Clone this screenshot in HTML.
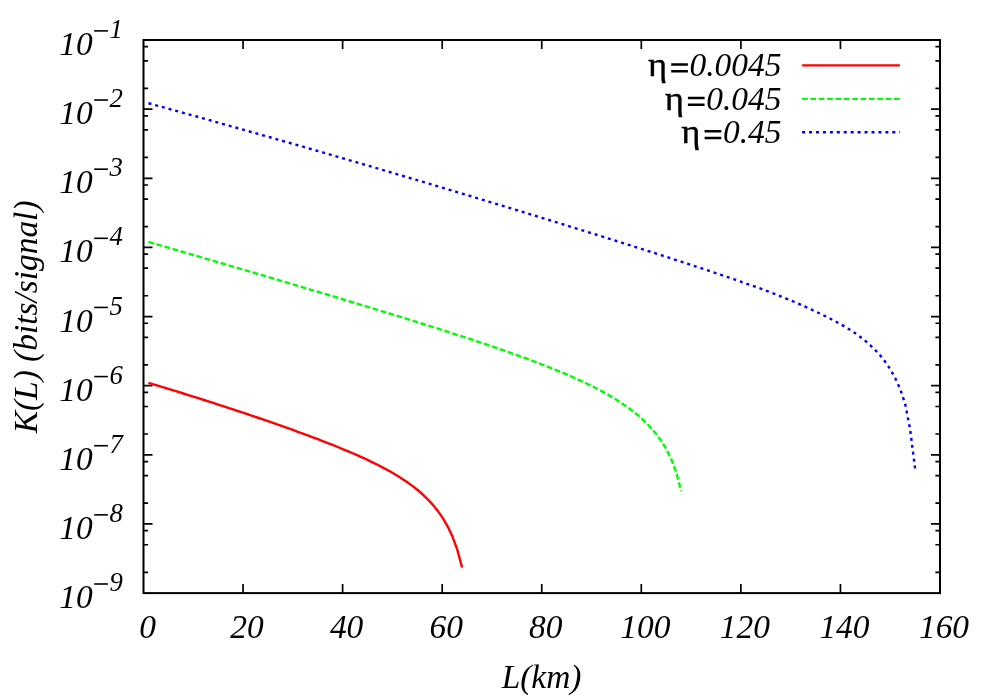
<!DOCTYPE html>
<html><head><meta charset="utf-8"><title>K(L)</title>
<style>
html,body{margin:0;padding:0;background:#fff;}
body{width:1000px;height:700px;overflow:hidden;}
svg{display:block;will-change:transform;}
text{font-family:"Liberation Serif",serif;font-style:italic;fill:#000;}
.up{font-style:normal;}
</style></head><body>
<svg width="1000" height="700" viewBox="0 0 1000 700">
<rect width="1000" height="700" fill="#fff"/>
<path d="M143.50,46.70h4.6 M940.00,46.70h-4.6 M143.50,60.81h4.6 M940.00,60.81h-4.6 M143.50,88.33h4.6 M940.00,88.33h-4.6 M143.50,109.14h9.0 M940.00,109.14h-9.0 M143.50,115.84h4.6 M940.00,115.84h-4.6 M143.50,129.95h4.6 M940.00,129.95h-4.6 M143.50,157.46h4.6 M940.00,157.46h-4.6 M143.50,178.28h9.0 M940.00,178.28h-9.0 M143.50,184.98h4.6 M940.00,184.98h-4.6 M143.50,199.09h4.6 M940.00,199.09h-4.6 M143.50,226.60h4.6 M940.00,226.60h-4.6 M143.50,247.41h9.0 M940.00,247.41h-9.0 M143.50,254.11h4.6 M940.00,254.11h-4.6 M143.50,268.22h4.6 M940.00,268.22h-4.6 M143.50,295.74h4.6 M940.00,295.74h-4.6 M143.50,316.55h9.0 M940.00,316.55h-9.0 M143.50,323.25h4.6 M940.00,323.25h-4.6 M143.50,337.36h4.6 M940.00,337.36h-4.6 M143.50,364.88h4.6 M940.00,364.88h-4.6 M143.50,385.69h9.0 M940.00,385.69h-9.0 M143.50,392.39h4.6 M940.00,392.39h-4.6 M143.50,406.50h4.6 M940.00,406.50h-4.6 M143.50,434.01h4.6 M940.00,434.01h-4.6 M143.50,454.83h9.0 M940.00,454.83h-9.0 M143.50,461.53h4.6 M940.00,461.53h-4.6 M143.50,475.64h4.6 M940.00,475.64h-4.6 M143.50,503.15h4.6 M940.00,503.15h-4.6 M143.50,523.96h9.0 M940.00,523.96h-9.0 M143.50,530.66h4.6 M940.00,530.66h-4.6 M143.50,544.77h4.6 M940.00,544.77h-4.6 M143.50,572.29h4.6 M940.00,572.29h-4.6 M243.06,593.10v-9.0 M243.06,40.00v9.0 M342.62,593.10v-9.0 M342.62,40.00v9.0 M442.19,593.10v-9.0 M442.19,40.00v9.0 M541.75,593.10v-9.0 M541.75,40.00v9.0 M641.31,593.10v-9.0 M641.31,40.00v9.0 M740.88,593.10v-9.0 M740.88,40.00v9.0 M840.44,593.10v-9.0 M840.44,40.00v9.0" stroke="#000" stroke-width="1.7" fill="none"/>
<rect x="143.5" y="40.0" width="796.5" height="553.1" fill="none" stroke="#000" stroke-width="2.0"/>
<path d="M148.48,382.89 L153.46,384.37 L158.43,385.87 L163.41,387.38 L168.39,388.89 L173.37,390.42 L178.35,391.95 L183.32,393.49 L188.30,395.04 L193.28,396.60 L198.26,398.17 L203.24,399.75 L208.22,401.34 L213.19,402.93 L218.17,404.54 L223.15,406.16 L228.13,407.78 L233.11,409.42 L238.08,411.07 L243.06,412.72 L248.04,414.39 L253.02,416.07 L258.00,417.76 L262.98,419.46 L267.95,421.18 L272.93,422.91 L277.91,424.65 L282.89,426.40 L287.87,428.18 L292.84,429.96 L297.82,431.77 L302.80,433.59 L307.78,435.43 L312.76,437.29 L317.73,439.18 L322.71,441.09 L327.69,443.02 L332.67,444.99 L337.65,446.99 L342.62,449.03 L347.60,451.11 L352.58,453.23 L357.56,455.41 L362.54,457.64 L367.52,459.94 L372.49,462.31 L377.47,464.77 L382.45,467.33 L387.43,470.00 L392.41,472.81 L397.38,475.76 L402.36,478.90 L407.34,482.25 L412.32,485.85 L417.30,489.76 L422.28,494.03 L427.25,498.77 L432.23,504.08 L437.21,510.14 L442.19,517.17 L447.17,525.53 L452.14,535.82 L457.12,549.09 L462.10,567.55" fill="none" stroke-linejoin="round" stroke="#ff0000" stroke-width="2.4"/>
<path d="M148.48,241.94 L153.46,243.38 L158.43,244.83 L163.41,246.27 L168.39,247.72 L173.37,249.17 L178.35,250.62 L183.32,252.07 L188.30,253.52 L193.28,254.98 L198.26,256.43 L203.24,257.89 L208.22,259.35 L213.19,260.81 L218.17,262.27 L223.15,263.73 L228.13,265.19 L233.11,266.65 L238.08,268.12 L243.06,269.59 L248.04,271.05 L253.02,272.52 L258.00,274.00 L262.98,275.47 L267.95,276.94 L272.93,278.42 L277.91,279.89 L282.89,281.37 L287.87,282.85 L292.84,284.33 L297.82,285.82 L302.80,287.30 L307.78,288.79 L312.76,290.28 L317.73,291.77 L322.71,293.26 L327.69,294.76 L332.67,296.26 L337.65,297.76 L342.62,299.26 L347.60,300.76 L352.58,302.27 L357.56,303.78 L362.54,305.29 L367.52,306.81 L372.49,308.33 L377.47,309.85 L382.45,311.37 L387.43,312.90 L392.41,314.44 L397.38,315.97 L402.36,317.51 L407.34,319.06 L412.32,320.61 L417.30,322.17 L422.28,323.73 L427.25,325.29 L432.23,326.87 L437.21,328.45 L442.19,330.03 L447.17,331.63 L452.14,333.23 L457.12,334.84 L462.10,336.46 L467.08,338.09 L472.06,339.72 L477.03,341.37 L482.01,343.04 L486.99,344.71 L491.97,346.40 L496.95,348.10 L501.93,349.82 L506.90,351.56 L511.88,353.32 L516.86,355.09 L521.84,356.89 L526.82,358.71 L531.79,360.56 L536.77,362.44 L541.75,364.34 L546.73,366.28 L551.71,368.26 L556.68,370.27 L561.66,372.33 L566.64,374.44 L571.62,376.61 L576.60,378.83 L581.58,381.11 L586.55,383.47 L591.53,385.91 L596.51,388.45 L601.49,391.08 L606.47,393.83 L611.44,396.71 L616.42,399.75 L621.40,402.96 L626.38,406.37 L631.36,410.02 L636.33,413.96 L641.31,418.24 L646.29,422.95 L651.27,428.18 L656.25,434.09 L661.23,440.91 L666.20,448.99 L671.18,458.95 L676.16,471.97 L681.14,490.95" fill="none" stroke-linejoin="round" stroke="#00ff00" stroke-width="2.4" stroke-dasharray="5.7 2.65"/>
<path d="M148.48,103.22 L153.46,104.59 L158.43,105.97 L163.41,107.34 L168.39,108.72 L173.37,110.10 L178.35,111.49 L183.32,112.87 L188.30,114.26 L193.28,115.65 L198.26,117.04 L203.24,118.43 L208.22,119.83 L213.19,121.23 L218.17,122.62 L223.15,124.03 L228.13,125.43 L233.11,126.83 L238.08,128.24 L243.06,129.65 L248.04,131.06 L253.02,132.47 L258.00,133.89 L262.98,135.30 L267.95,136.72 L272.93,138.14 L277.91,139.57 L282.89,140.99 L287.87,142.42 L292.84,143.84 L297.82,145.27 L302.80,146.71 L307.78,148.14 L312.76,149.58 L317.73,151.02 L322.71,152.46 L327.69,153.90 L332.67,155.34 L337.65,156.79 L342.62,158.24 L347.60,159.69 L352.58,161.14 L357.56,162.59 L362.54,164.05 L367.52,165.51 L372.49,166.97 L377.47,168.43 L382.45,169.89 L387.43,171.36 L392.41,172.82 L397.38,174.29 L402.36,175.77 L407.34,177.24 L412.32,178.71 L417.30,180.19 L422.28,181.67 L427.25,183.15 L432.23,184.64 L437.21,186.12 L442.19,187.61 L447.17,189.10 L452.14,190.59 L457.12,192.08 L462.10,193.58 L467.08,195.08 L472.06,196.58 L477.03,198.08 L482.01,199.58 L486.99,201.09 L491.97,202.59 L496.95,204.10 L501.93,205.61 L506.90,207.13 L511.88,208.64 L516.86,210.16 L521.84,211.68 L526.82,213.20 L531.79,214.73 L536.77,216.25 L541.75,217.78 L546.73,219.31 L551.71,220.84 L556.68,222.38 L561.66,223.91 L566.64,225.45 L571.62,227.00 L576.60,228.54 L581.58,230.09 L586.55,231.63 L591.53,233.19 L596.51,234.74 L601.49,236.30 L606.47,237.85 L611.44,239.42 L616.42,240.98 L621.40,242.55 L626.38,244.12 L631.36,245.69 L636.33,247.27 L641.31,248.85 L646.29,250.43 L651.27,252.02 L656.25,253.61 L661.23,255.21 L666.20,256.81 L671.18,258.41 L676.16,260.02 L681.14,261.64 L686.12,263.26 L691.09,264.89 L696.07,266.52 L701.05,268.16 L706.03,269.81 L711.01,271.47 L715.98,273.14 L720.96,274.81 L725.94,276.50 L730.92,278.20 L735.90,279.91 L740.88,281.64 L745.85,283.38 L750.83,285.14 L755.81,286.92 L760.79,288.73 L765.77,290.56 L770.74,292.43 L775.72,294.33 L780.70,296.29 L785.68,298.29 L790.66,300.35 L795.63,302.47 L800.61,304.65 L805.59,306.88 L810.57,309.16 L815.55,311.49 L820.53,313.86 L825.50,316.28 L830.48,318.78 L835.46,321.37 L840.44,324.08 L845.42,326.96 L850.39,330.04 L855.37,333.35 L860.35,336.95 L865.33,340.89 L870.31,345.24 L875.28,350.08 L880.26,355.55 L885.24,361.81 L890.22,369.15 L895.20,377.99 L900.18,389.06 L905.15,403.81 L910.13,429.50 L915.11,468.60" fill="none" stroke-linejoin="round" stroke="#0000ff" stroke-width="2.4" stroke-dasharray="3.0 3.94"/>
<text x="59.3" y="55.00" font-size="33.4">10</text>
<path d="M94.2,30.90H107.9" stroke="#000" stroke-width="1.6" fill="none"/>
<text x="122.9" y="38.00" text-anchor="end" font-size="26.7">1</text>
<text x="59.3" y="124.14" font-size="33.4">10</text>
<path d="M94.2,100.04H107.9" stroke="#000" stroke-width="1.6" fill="none"/>
<text x="122.9" y="107.14" text-anchor="end" font-size="26.7">2</text>
<text x="59.3" y="193.28" font-size="33.4">10</text>
<path d="M94.2,169.18H107.9" stroke="#000" stroke-width="1.6" fill="none"/>
<text x="122.9" y="176.28" text-anchor="end" font-size="26.7">3</text>
<text x="59.3" y="262.41" font-size="33.4">10</text>
<path d="M94.2,238.31H107.9" stroke="#000" stroke-width="1.6" fill="none"/>
<text x="122.9" y="245.41" text-anchor="end" font-size="26.7">4</text>
<text x="59.3" y="331.55" font-size="33.4">10</text>
<path d="M94.2,307.45H107.9" stroke="#000" stroke-width="1.6" fill="none"/>
<text x="122.9" y="314.55" text-anchor="end" font-size="26.7">5</text>
<text x="59.3" y="400.69" font-size="33.4">10</text>
<path d="M94.2,376.59H107.9" stroke="#000" stroke-width="1.6" fill="none"/>
<text x="122.9" y="383.69" text-anchor="end" font-size="26.7">6</text>
<text x="59.3" y="469.83" font-size="33.4">10</text>
<path d="M94.2,445.73H107.9" stroke="#000" stroke-width="1.6" fill="none"/>
<text x="122.9" y="452.83" text-anchor="end" font-size="26.7">7</text>
<text x="59.3" y="538.96" font-size="33.4">10</text>
<path d="M94.2,514.86H107.9" stroke="#000" stroke-width="1.6" fill="none"/>
<text x="122.9" y="521.96" text-anchor="end" font-size="26.7">8</text>
<text x="59.3" y="608.10" font-size="33.4">10</text>
<path d="M94.2,584.00H107.9" stroke="#000" stroke-width="1.6" fill="none"/>
<text x="122.9" y="591.10" text-anchor="end" font-size="26.7">9</text>
<text x="147.50" y="638" text-anchor="middle" font-size="33.4">0</text>
<text x="247.06" y="638" text-anchor="middle" font-size="33.4">20</text>
<text x="346.62" y="638" text-anchor="middle" font-size="33.4">40</text>
<text x="446.19" y="638" text-anchor="middle" font-size="33.4">60</text>
<text x="545.75" y="638" text-anchor="middle" font-size="33.4">80</text>
<text x="645.31" y="638" text-anchor="middle" font-size="33.4">100</text>
<text x="744.88" y="638" text-anchor="middle" font-size="33.4">120</text>
<text x="844.44" y="638" text-anchor="middle" font-size="33.4">140</text>
<text x="944.00" y="638" text-anchor="middle" font-size="33.4">160</text>
<text x="541.5" y="687.7" text-anchor="middle" font-size="33.4">L(km)</text>
<text transform="translate(37.3,316.9) rotate(-90)" text-anchor="middle" font-size="33.4">K(L) (bits/signal)</text>
<text x="781.4" y="76.0" text-anchor="end" font-size="33.4">0.0045</text>
<path d="M671.20,64.45H687.90 M671.20,71.15H687.90" stroke="#000" stroke-width="2.5" fill="none"/>
<text class="up" transform="translate(647.95,76.0) scale(1.1,1.03)" font-size="33.4" stroke="#000" stroke-width="0.35">η</text>
<path d="M802.1,65.4H899.85" stroke="#ff0000" stroke-width="2.4" fill="none"/>
<text x="781.4" y="109.5" text-anchor="end" font-size="33.4">0.045</text>
<path d="M687.90,97.95H704.60 M687.90,104.65H704.60" stroke="#000" stroke-width="2.5" fill="none"/>
<text class="up" transform="translate(664.65,109.5) scale(1.1,1.03)" font-size="33.4" stroke="#000" stroke-width="0.35">η</text>
<path d="M802.1,98.9H899.85" stroke="#00ff00" stroke-width="2.4" fill="none" stroke-dasharray="5.7 2.65"/>
<text x="781.4" y="142.9" text-anchor="end" font-size="33.4">0.45</text>
<path d="M704.60,131.35H721.30 M704.60,138.05H721.30" stroke="#000" stroke-width="2.5" fill="none"/>
<text class="up" transform="translate(681.35,142.9) scale(1.1,1.03)" font-size="33.4" stroke="#000" stroke-width="0.35">η</text>
<path d="M802.1,132.2H899.85" stroke="#0000ff" stroke-width="2.4" fill="none" stroke-dasharray="3.0 3.94"/>
</svg></body></html>
